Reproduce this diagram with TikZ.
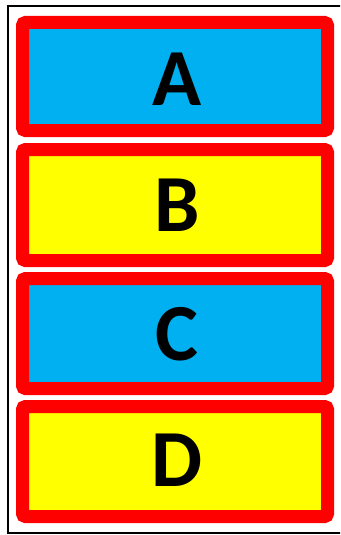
\documentclass[tikz,border=0pt]{standalone}
\usepackage{fontspec}
\setmainfont{Carlito}
\usepackage{tikz}

\definecolor{boxblue}{HTML}{00B0F0}
\definecolor{boxyellow}{HTML}{FFFF00}
\definecolor{boxred}{HTML}{FF0000}

\tikzset{
  letterbox/.style={draw=boxred, line width=13pt, rounded corners=3pt},
  bigletter/.style={font=\fontsize{81}{81}\selectfont\bfseries, inner sep=0pt}
}

\begin{document}
\begin{tikzpicture}[x=1pt, y=-1pt]
\useasboundingbox (0,0) rectangle (340,535);
\clip (0,0) rectangle (340,535);
\draw[line width=2pt] (8,6) rectangle (342,533);
% the four boxes
\draw[letterbox, fill=boxblue] (22.5,22.5) rectangle (327.5,130.5);
\draw[letterbox, fill=boxyellow] (22.5,149.5) rectangle (327.5,260.5);
\draw[letterbox, fill=boxblue] (22.5,278.5) rectangle (327.5,388.5);
\draw[letterbox, fill=boxyellow] (22.5,406.5) rectangle (327.5,516.5);
% letters
\node[bigletter] (lettA) at (177,79) {A};
\node[bigletter] (lettB) at (177,205) {B};
\node[bigletter] (lettC) at (177,334) {C};
\node[bigletter] (lettD) at (177,460) {D};
\end{tikzpicture}
\end{document}
